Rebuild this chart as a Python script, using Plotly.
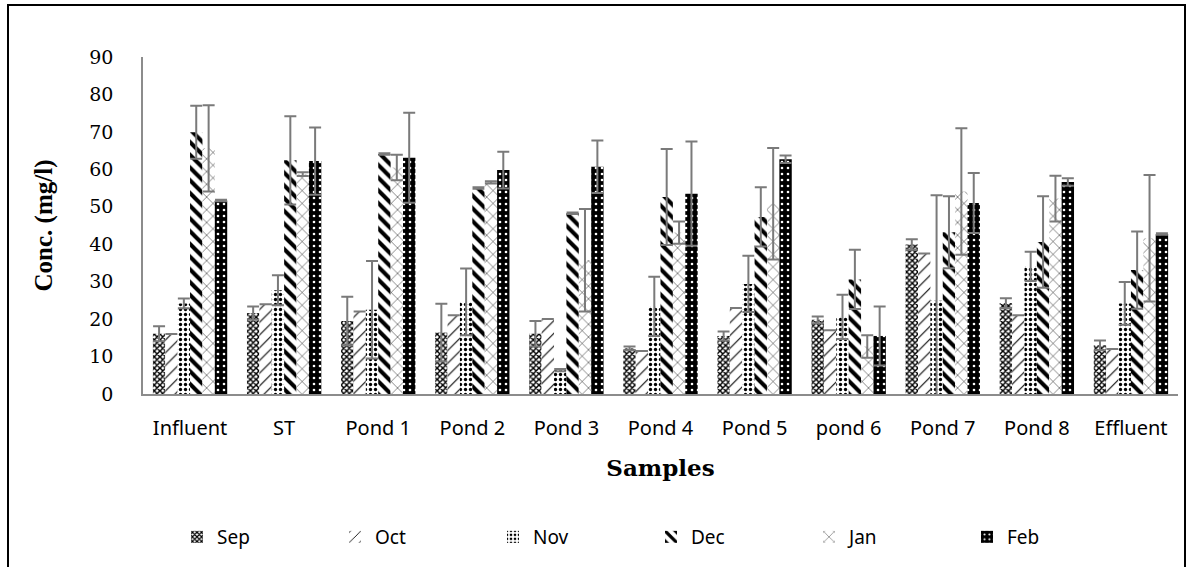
import plotly.graph_objects as go

samples = ["Influent", "ST", "Pond 1", "Pond 2", "Pond 3", "Pond 4",
           "Pond 5", "pond 6", "Pond 7", "Pond 8", "Effluent"]
months = ["Sep", "Oct", "Nov", "Dec", "Jan", "Feb"]

sep = [16.1, 21.6, 19.5, 16.4, 16.1, 12.2, 15.5, 19.8, 39.9, 24.3, 13.0]
oct_ = [16.0, 24.0, 22.0, 21.0, 20.0, 11.5, 23.0, 17.0, 37.5, 21.0, 12.0]
nov = [24.2, 27.7, 22.5, 24.6, 6.4, 23.4, 29.4, 20.6, 24.9, 34.1, 24.2]
dec = [69.9, 62.4, 64.1, 55.0, 48.3, 52.6, 47.3, 30.6, 43.2, 40.6, 33.1]
jan = [65.6, 58.7, 60.5, 56.5, 35.7, 43.1, 50.8, 12.7, 54.1, 52.2, 41.6]
feb = [51.7, 62.2, 63.1, 59.8, 60.7, 53.5, 62.7, 15.5, 51.0, 56.6, 42.7]

sep_err = [2.0, 1.8, 6.5, 7.7, 3.4, 0.5, 1.2, 0.9, 1.4, 1.3, 1.3]
oct_err = [0, 0, 0, 0, 0, 0, 0, 0, 0, 0, 0]
nov_err = [1.3, 4.0, 13.0, 8.9, 0.3, 7.9, 7.5, 5.9, 28.2, 3.9, 5.7]
dec_err = [7.1, 11.8, 0.2, 0.2, 0.2, 12.8, 7.9, 7.9, 9.6, 12.2, 10.3]
jan_err = [11.5, 0.5, 3.4, 0.3, 13.7, 3.0, 14.9, 3.0, 16.9, 6.1, 16.9]
feb_err = [0.2, 9.0, 12.0, 4.9, 7.0, 13.9, 1.0, 7.9, 8.0, 1.0, 0.2]

series = [sep, oct_, nov, dec, jan, feb]
errors = [sep_err, oct_err, nov_err, dec_err, jan_err, feb_err]

# fill patterns per month (black on white, Feb is white dots on black)
patterns = [
    dict(shape="x", size=4, solidity=0.6, fgcolor="black", bgcolor="white"),
    dict(shape="/", size=9, solidity=0.12, fgcolor="black", bgcolor="white"),
    dict(shape=".", size=5, solidity=0.35, fgcolor="black", bgcolor="white"),
    dict(shape="\\", size=9, solidity=0.45, fgcolor="black", bgcolor="white"),
    dict(shape="x", size=9, solidity=0.1, fgcolor="black", bgcolor="white"),
    dict(shape=".", size=6, solidity=0.15, fgcolor="white", bgcolor="black"),
]

fig = go.Figure()
for name, vals, errs, pat in zip(months, series, errors, patterns):
    fig.add_trace(go.Bar(
        name=name, x=samples, y=vals,
        marker=dict(color=pat["bgcolor"], line=dict(width=0),
                    pattern=dict(fillmode="replace", **pat)),
        error_y=dict(type="data", array=errs, visible=True,
                     color="#7a7a7a", thickness=2, width=6),
    ))

W, H = 1186, 567
L, R, T, B = 143, 8, 57, 173
pw, ph = W - L - R, H - T - B

fig.update_layout(
    width=W, height=H,
    margin=dict(l=L, r=R, t=T, b=B, autoexpand=False),
    paper_bgcolor="white", plot_bgcolor="white",
    barmode="group", bargap=0.21, bargroupgap=0,
    showlegend=True,
    legend=dict(orientation="h", x=(177 - L) / pw, xanchor="left",
                y=-(537 - 394) / ph, yanchor="middle",
                bgcolor="rgba(0,0,0,0)",
                font=dict(family="Noto Sans", size=19, color="black"),
                entrywidth=113, itemwidth=30, traceorder="normal"),
    font=dict(family="Noto Sans", color="black"),
    xaxis=dict(showline=True, linecolor="#8c8c8c", linewidth=1.5,
               ticks="", showgrid=False, automargin=False,
               tickfont=dict(family="Noto Sans", size=20, color="black"),
               ticklabelstandoff=15,
               title=dict(text="<b>Samples</b>", standoff=20,
                          font=dict(family="DejaVu Serif", size=23, color="black"))),
    yaxis=dict(range=[0, 90], dtick=10, showline=True, linecolor="#8c8c8c",
               linewidth=1.5, ticks="", showgrid=False, zeroline=False,
               automargin=False,
               tickfont=dict(family="DejaVu Serif", size=19, color="black"),
               ticklabelstandoff=24,
               title=dict(text="<b>Conc. (mg/l)</b>", standoff=30,
                          font=dict(family="Liberation Serif", size=25, color="black"))),
)

# outer frame: left, top and right edges of the chart box
fx0, fx1 = (8 - L) / pw, (1185 - L) / pw
fy_top, fy_bot = (H - 5 - B) / ph, (H - 570 - B) / ph
fig.add_shape(type="path", xref="paper", yref="paper",
              path=f"M {fx0} {fy_bot} L {fx0} {fy_top} L {fx1} {fy_top} L {fx1} {fy_bot}",
              line=dict(color="black", width=2), layer="below")

fig.write_html("out.html")
